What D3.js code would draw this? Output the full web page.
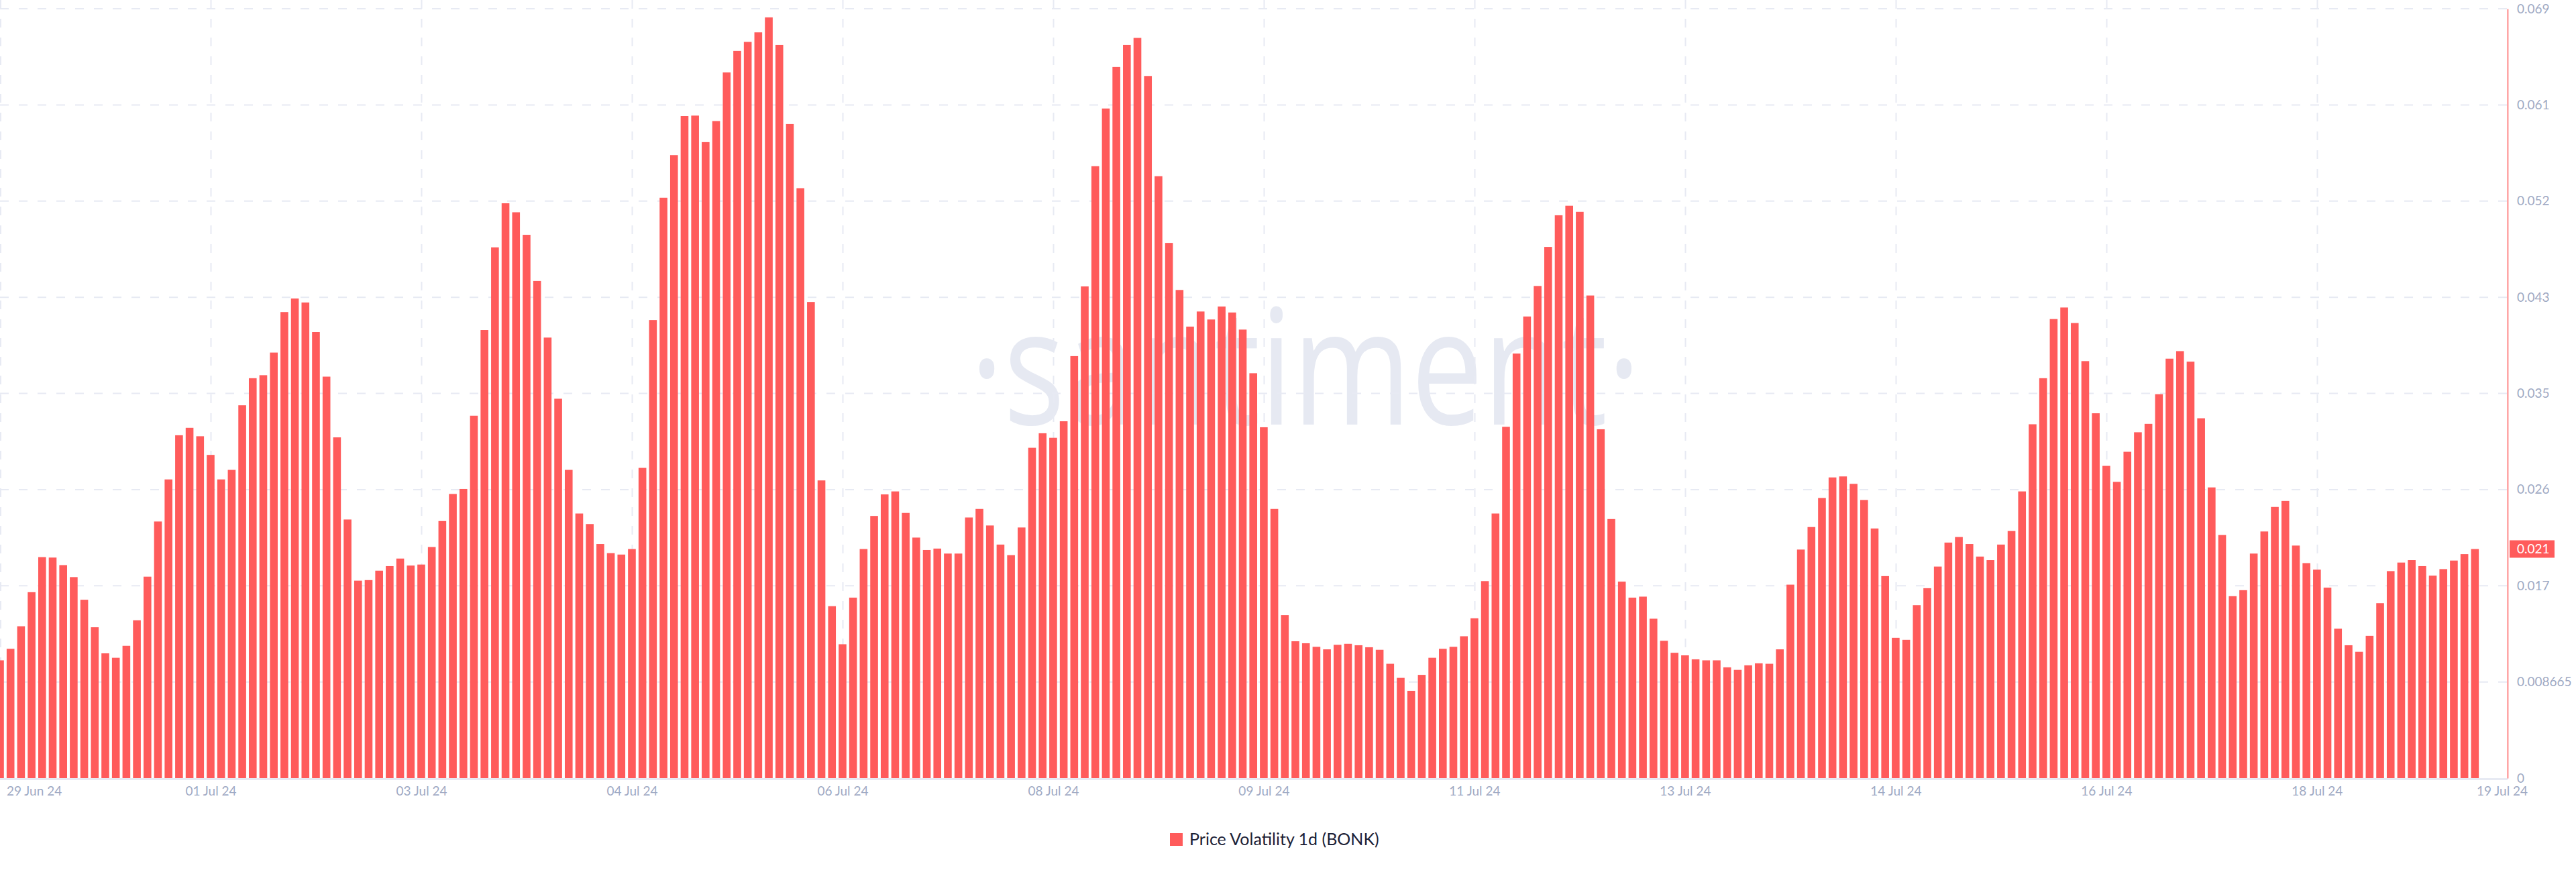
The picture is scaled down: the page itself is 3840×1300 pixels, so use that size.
<!DOCTYPE html>
<html><head><meta charset="utf-8">
<script src="https://cdn.jsdelivr.net/npm/d3@7"></script>
<style>
html,body{margin:0;padding:0;background:#fff;}
svg{display:block;}
</style></head>
<body>
<svg id="chart" width="3840" height="1300"></svg>
<script>
// Price Volatility 1d (BONK), 2-hour bars starting 29 Jun 24 20:00
const volA = [0.01061,0.01165,0.01368,0.01675,0.01991,0.01987,0.01919,0.01811,0.01607,0.01359,
              0.01124,0.01084,0.01192,0.01422,0.01815,0.02312,0.02691,0.03089,0.03156,0.03080,
              0.02912,0.02691,0.02777,0.03359,0.03603,0.03630,0.03834,0.04199,0.04321,0.04285,
              0.04019,0.03617,0.03070,0.02330,0.01779,0.01784,0.01869,0.01910,0.01978,0.01915];
const volB = [0.01924,0.02082,0.02316,0.02560,0.02605,0.03265,0.04037,0.04782,0.05179,0.05098,
              0.04895,0.04479,0.03969,0.03418,0.02777,0.02384,0.02289,0.02109,0.02027,0.02014,
              0.02064,0.02795,0.04127,0.05229,0.05613,0.05965,0.05969,0.05730,0.05920,0.06358,
              0.06552,0.06633,0.06719,0.06854,0.06606,0.05893,0.05315,0.04290,0.02682,0.01549];
const volC = [0.01206,0.01626,0.02064,0.02362,0.02556,0.02583,0.02389,0.02167,0.02055,0.02068,
              0.02023,0.02023,0.02348,0.02425,0.02276,0.02104,0.02009,0.02258,0.02976,0.03107,
              0.03066,0.03215,0.03802,0.04430,0.05513,0.06033,0.06407,0.06606,0.06669,0.06326,
              0.05423,0.04822,0.04398,0.04068,0.04204,0.04132,0.04249,0.04195,0.04041,0.03648];
const volD = [0.03161,0.02425,0.01468,0.01233,0.01215,0.01183,0.01160,0.01201,0.01210,0.01197,
              0.01179,0.01156,0.01030,0.00903,0.00786,0.00930,0.01084,0.01165,0.01183,0.01278,
              0.01440,0.01775,0.02384,0.03165,0.03825,0.04159,0.04434,0.04786,0.05071,0.05157,
              0.05102,0.04348,0.03143,0.02334,0.01770,0.01626,0.01635,0.01436,0.01237,0.01129];
const volE = [0.01106,0.01070,0.01061,0.01061,0.00998,0.00975,0.01016,0.01034,0.01030,0.01160,
              0.01743,0.02059,0.02262,0.02524,0.02709,0.02718,0.02651,0.02506,0.02249,0.01820,
              0.01264,0.01246,0.01558,0.01711,0.01906,0.02122,0.02172,0.02109,0.01996,0.01964,
              0.02104,0.02226,0.02583,0.03188,0.03603,0.04136,0.04240,0.04100,0.03757,0.03287];
const volF = [0.02813,0.02669,0.02940,0.03116,0.03192,0.03459,0.03779,0.03847,0.03752,0.03242,
              0.02619,0.02190,0.01639,0.01693,0.02023,0.02222,0.02443,0.02497,0.02095,0.01937,
              0.01878,0.01716,0.01346,0.01197,0.01138,0.01282,0.01576,0.01865,0.01942,0.01964,
              0.01910,0.01824,0.01883,0.01960,0.02018,0.02064];

const startTime = new Date(2024, 5, 29, 20, 0);
const endTime = new Date(2024, 6, 19, 16, 12);
const barStepHours = 2;

const xTickDates = [
  new Date(2024,6,1,12), new Date(2024,6,3,4), new Date(2024,6,4,20), new Date(2024,6,6,12),
  new Date(2024,6,8,4), new Date(2024,6,9,20), new Date(2024,6,11,12), new Date(2024,6,13,4),
  new Date(2024,6,14,20), new Date(2024,6,16,12), new Date(2024,6,18,4)
];
const edgeLabels = ["29 Jun 24", "19 Jul 24"];
const yTickValues = [0, 0.008665, 0.01733, 0.025995, 0.03466, 0.043325, 0.05199, 0.060655, 0.06932];
const yTickLabels = ["0", "0.008665", "0.017", "0.026", "0.035", "0.043", "0.052", "0.061", "0.069"];
const seriesName = "Price Volatility 1d (BONK)";
const lastValueLabel = "0.021";
const watermarkText = "\u00B7santiment\u00B7";

const values = [].concat(volA, volB, volC, volD, volE, volF);
const data = values.map((v, i) => ({ t: new Date(startTime.getTime() + i * barStepHours * 3600e3), v }));

const RED = "#ff5b5b", GRID = "#e7eaf3", LABEL = "#9faac4";
const W = 3840, plotRight = 3738, plotTop = 13, plotBottom = 1160;

const svg = d3.select("#chart");
const x = d3.scaleTime().domain([startTime, endTime]).range([0, plotRight]);
const y = d3.scaleLinear().domain([0, 0.06932]).range([plotBottom, plotTop]);

// watermark
svg.append("text")
  .attr("x", 1946).attr("y", 633)
  .attr("text-anchor", "middle")
  .attr("font-family", "Open Sans")
  .attr("font-size", 240)
  .attr("fill", "#e6e9f2")
  .attr("textLength", 1000)
  .attr("lengthAdjust", "spacingAndGlyphs")
  .text(watermarkText);

// horizontal grid
svg.append("g").selectAll("line").data(yTickValues.slice(1)).join("line")
  .attr("x1", 0).attr("x2", plotRight)
  .attr("y1", d => y(d)).attr("y2", d => y(d))
  .attr("stroke", GRID).attr("stroke-width", 2).attr("stroke-dasharray", "13,15");

// vertical grid
svg.append("g").selectAll("line").data([startTime].concat(xTickDates)).join("line")
  .attr("x1", (d, i) => i === 0 ? 1 : Math.round(x(d)) + 0.5)
  .attr("x2", (d, i) => i === 0 ? 1 : Math.round(x(d)) + 0.5)
  .attr("y1", 0).attr("y2", plotBottom)
  .attr("stroke", GRID).attr("stroke-width", 2).attr("stroke-dasharray", "13,15");

// bars
const bw = 11.6;
svg.append("g").selectAll("rect").data(data).join("rect")
  .attr("x", d => x(d.t) - bw / 2)
  .attr("width", bw)
  .attr("y", d => y(d.v))
  .attr("height", d => plotBottom - y(d.v))
  .attr("fill", RED);

// baseline
svg.append("line")
  .attr("x1", 0).attr("x2", plotRight)
  .attr("y1", plotBottom + 1.5).attr("y2", plotBottom + 1.5)
  .attr("stroke", GRID).attr("stroke-width", 3);

// x axis
const xAxis = d3.axisBottom(x).tickValues(xTickDates).tickFormat(d3.timeFormat("%d %b %y")).tickSize(0).tickPadding(0);
const gx = svg.append("g").attr("transform", `translate(0,${plotBottom})`).call(xAxis);
gx.select(".domain").remove();
gx.selectAll("text").attr("y", 26).attr("dy", null)
  .attr("fill", LABEL).attr("font-family", "Lato").attr("font-size", 19);
svg.append("text").attr("x", 10).attr("y", plotBottom + 26)
  .attr("fill", LABEL).attr("font-family", "Lato").attr("font-size", 19).text(edgeLabels[0]);
svg.append("text").attr("x", 3730).attr("y", plotBottom + 26).attr("text-anchor", "middle")
  .attr("fill", LABEL).attr("font-family", "Lato").attr("font-size", 19).text(edgeLabels[1]);

// y axis (right)
const yAxis = d3.axisRight(y).tickValues(yTickValues).tickFormat((d, i) => yTickLabels[i]).tickSize(0).tickPadding(14);
const gy = svg.append("g").attr("transform", `translate(${plotRight},0)`).call(yAxis);
gy.select(".domain").attr("stroke", RED).attr("stroke-width", 1.5);
gy.selectAll("text").attr("fill", LABEL).attr("font-family", "Lato").attr("font-size", 19);

// last value badge
const lastV = values[values.length - 1];
svg.append("rect").attr("x", plotRight + 3).attr("y", y(lastV) - 13).attr("width", 67).attr("height", 26).attr("fill", RED);
svg.append("text").attr("x", plotRight + 14).attr("y", y(lastV)).attr("dy", "0.35em")
  .attr("fill", "#fff").attr("font-family", "Lato").attr("font-size", 19).text(lastValueLabel);

// legend
const lg = svg.append("g");
lg.append("rect").attr("x", 1744).attr("y", 1242).attr("width", 19).attr("height", 19).attr("fill", RED);
lg.append("text").attr("x", 1773).attr("y", 1260).attr("fill", "#1c2136")
  .attr("font-family", "Lato").attr("font-size", 25).text(seriesName);
</script>
</body></html>
